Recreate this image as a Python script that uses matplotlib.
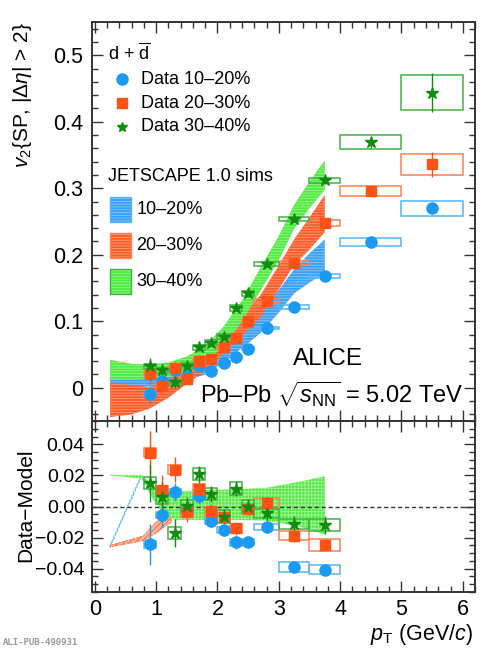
import matplotlib
matplotlib.use("Agg")
import matplotlib.pyplot as plt
from matplotlib.patches import Rectangle
from matplotlib.ticker import MultipleLocator

plt.rcParams['font.family'] = ['Liberation Sans', 'DejaVu Sans']
plt.rcParams['mathtext.fontset'] = 'custom'
plt.rcParams['mathtext.rm'] = 'Liberation Sans'
plt.rcParams['mathtext.it'] = 'Liberation Sans:italic'
plt.rcParams['mathtext.bf'] = 'Liberation Sans:bold'
plt.rcParams['hatch.linewidth'] = 0.6

# pT bins
pt = [0.9, 1.1, 1.3, 1.5, 1.7, 1.9, 2.1, 2.3, 2.5, 2.8, 3.25, 3.75, 4.5, 5.5]
pt_lo = [0.8, 1.0, 1.2, 1.4, 1.6, 1.8, 2.0, 2.2, 2.4, 2.6, 3.0, 3.5, 4.0, 5.0]
pt_hi = [1.0, 1.2, 1.4, 1.6, 1.8, 2.0, 2.2, 2.4, 2.6, 3.0, 3.5, 4.0, 5.0, 6.0]

# v2 data
v2_1020 = [-0.010, 0.010, 0.026, 0.017, 0.032, 0.025, 0.0375, 0.0465, 0.059, 0.090, 0.121, 0.168, 0.219, 0.270]
v2_2030 = [0.020, 0.002, 0.030, 0.0135, 0.040, 0.0435, 0.061, 0.075, 0.101, 0.130, 0.188, 0.248, 0.296, 0.336]
v2_3040 = [0.032, 0.026, 0.008, 0.033, 0.061, 0.068, 0.077, 0.120, 0.142, 0.186, 0.254, 0.312, 0.369, 0.444]

stat_1020 = [0.013, 0.008, 0.006, 0.005, 0.005, 0.004, 0.004, 0.004, 0.004, 0.003, 0.003, 0.003, 0.004, 0.006]
stat_2030 = [0.014, 0.010, 0.008, 0.006, 0.005, 0.005, 0.004, 0.004, 0.004, 0.004, 0.004, 0.004, 0.006, 0.019]
stat_3040 = [0.012, 0.010, 0.009, 0.006, 0.005, 0.005, 0.005, 0.005, 0.005, 0.005, 0.005, 0.006, 0.008, 0.029]

sys_1020 = [0.002, 0.002, 0.002, 0.002, 0.002, 0.002, 0.002, 0.002, 0.002, 0.002, 0.003, 0.003, 0.006, 0.011]
sys_2030 = [0.003, 0.003, 0.003, 0.003, 0.003, 0.003, 0.003, 0.003, 0.003, 0.003, 0.003, 0.004, 0.008, 0.016]
sys_3040 = [0.004, 0.004, 0.004, 0.004, 0.004, 0.004, 0.004, 0.004, 0.004, 0.003, 0.003, 0.004, 0.0105, 0.026]

# data - model (first 12 bins)
res_1020 = [-0.0244, -0.0054, 0.0093, -0.0030, 0.0069, -0.0091, -0.0151, -0.0231, -0.0227, -0.0130, -0.0389, -0.0406]
res_2030 = [0.0346, 0.0104, 0.0238, -0.0037, 0.0115, -0.0032, -0.0069, -0.0141, -0.0017, 0.0022, -0.0188, -0.0249]
res_3040 = [0.0151, 0.0058, -0.0169, 0.0004, 0.0210, 0.0080, -0.0065, 0.0115, 0.0000, -0.0043, -0.0112, -0.0119]

# JETSCAPE model bands
mod_pt = [0.25, 0.6, 0.9, 1.2, 1.5, 1.8, 2.1, 2.4, 2.7, 3.0, 3.25, 3.5, 3.75]
mod_1020 = [0.006, 0.008, 0.009, 0.013, 0.020, 0.030, 0.050, 0.074, 0.098, 0.130, 0.160, 0.180, 0.198]
mod_1020_err = [0.008, 0.007, 0.007, 0.008, 0.009, 0.010, 0.012, 0.014, 0.016, 0.017, 0.018, 0.022, 0.025]
mod_2030 = [-0.018, -0.018, -0.015, -0.002, 0.018, 0.038, 0.066, 0.094, 0.122, 0.166, 0.204, 0.232, 0.262]
mod_2030_err = [0.026, 0.022, 0.016, 0.013, 0.012, 0.013, 0.014, 0.016, 0.017, 0.018, 0.019, 0.024, 0.028]
mod_3040 = [0.027, 0.024, 0.024, 0.027, 0.035, 0.050, 0.078, 0.115, 0.163, 0.210, 0.257, 0.290, 0.320]
mod_3040_err = [0.015, 0.012, 0.011, 0.011, 0.012, 0.013, 0.014, 0.016, 0.017, 0.018, 0.018, 0.020, 0.022]

# model bands in the ratio panel
rb_1020_pt = [0.25, 0.76, 0.95, 1.2]
rb_1020_lo = [-0.026, 0.019, 0.005, -0.004]
rb_1020_hi = [-0.025, 0.0205, 0.012, 0.008]
rb_2030_pt = [0.25, 0.79, 1.0, 1.25]
rb_2030_lo = [-0.026, -0.022, -0.017, -0.010]
rb_2030_hi = [-0.025, -0.019, -0.010, -0.002]
rb_3040_pt = [0.25, 0.77, 0.85, 0.95, 1.1, 1.3, 1.7, 2.3, 2.8, 3.35, 3.75]
rb_3040_lo = [0.0200, 0.018, 0.013, 0.005, -0.004, -0.0086, -0.0086, -0.0086, -0.009, -0.013, -0.018]
rb_3040_hi = [0.0205, 0.020, 0.017, 0.013, 0.011, 0.0097, 0.0105, 0.011, 0.012, 0.016, 0.0195]

c_data = {'1020': '#1a9af2', '2030': '#ff5214', '3040': '#108c10'}
c_box = {'1020': '#55b4fa', '2030': '#ff8052', '3040': '#44b044'}
c_band = {'1020': '#3a9ff5', '2030': '#ff5c2a', '3040': '#52ea42'}
c_hatch = {'1020': '#8cc8fa', '2030': '#ff9c78', '3040': '#9af590'}
markers = {'1020': ('o', 8), '2030': ('s', 7.5), '3040': ('*', 9)}

fig = plt.figure(figsize=(5.02, 6.5), dpi=100)
ax = fig.add_axes([0.1827, 0.3523, 0.7636, 0.6138])
axr = fig.add_axes([0.1827, 0.0892, 0.7636, 0.2631])


def draw_band(a, x, lo, hi, key, z=1):
    a.fill_between(x, lo, hi, facecolor=c_band[key], edgecolor=c_hatch[key],
                   hatch='------', linewidth=0, zorder=z)


def draw_data(a, y, stat, sys, key, n):
    for i in range(n):
        a.add_patch(Rectangle((pt_lo[i], y[i] - sys[i]), pt_hi[i] - pt_lo[i], 2 * sys[i],
                              fill=False, edgecolor=c_box[key], linewidth=1.1, zorder=4))
    m, ms = markers[key]
    a.errorbar(pt[:n], y[:n], yerr=stat[:n], fmt=m, ms=ms, color=c_data[key],
               ecolor=c_data[key], elinewidth=1.0, capsize=0, zorder=5)


# top panel
for key, mc, me in [('1020', mod_1020, mod_1020_err), ('2030', mod_2030, mod_2030_err),
                    ('3040', mod_3040, mod_3040_err)]:
    draw_band(ax, mod_pt, [c - e for c, e in zip(mc, me)], [c + e for c, e in zip(mc, me)], key)

draw_data(ax, v2_1020, stat_1020, sys_1020, '1020', len(pt))
draw_data(ax, v2_2030, stat_2030, sys_2030, '2030', len(pt))
draw_data(ax, v2_3040, stat_3040, sys_3040, '3040', len(pt))

# bottom panel
axr.fill_between(rb_1020_pt, rb_1020_lo, rb_1020_hi, facecolor='none', edgecolor=c_box['1020'],
                 linewidth=0.6, linestyle='--', zorder=1)
axr.fill_between(rb_2030_pt, rb_2030_lo, rb_2030_hi, facecolor='#ffb89a', edgecolor=c_band['2030'],
                 hatch='//////', linewidth=0.5, linestyle='--', zorder=1)
axr.fill_between(rb_3040_pt, rb_3040_lo, rb_3040_hi, facecolor=c_band['3040'], edgecolor='#a8f59c',
                 hatch='+++++', linewidth=0, zorder=2)
axr.axhline(0, color='#333333', linestyle=(0, (3, 2)), linewidth=1.0, zorder=3)
n_res = len(res_1020)
draw_data(axr, res_1020, stat_1020, sys_1020, '1020', n_res)
draw_data(axr, res_2030, stat_2030, sys_2030, '2030', n_res)
draw_data(axr, res_3040, stat_3040, sys_3040, '3040', n_res)

# axes styling
for a in (ax, axr):
    a.set_xlim(-0.05, 6.2)
    a.xaxis.set_major_locator(MultipleLocator(1))
    a.xaxis.set_minor_locator(MultipleLocator(0.2))
    a.tick_params(which='both', direction='in', top=True, right=True, color='#333333')
    a.tick_params(which='major', length=8, width=1.0)
    a.tick_params(which='minor', length=4, width=1.0)
    for s in a.spines.values():
        s.set_linewidth(1.4)
        s.set_color('#333333')

ax.set_ylim(-0.05, 0.55)
ax.yaxis.set_major_locator(MultipleLocator(0.1))
ax.yaxis.set_minor_locator(MultipleLocator(0.02))
ax.set_yticks([0, 0.1, 0.2, 0.3, 0.4, 0.5])
ax.set_yticklabels(['0', '0.1', '0.2', '0.3', '0.4', '0.5'])
ax.tick_params(axis='y', labelsize=15.5, pad=6)
ax.tick_params(axis='x', labelbottom=False)

axr.set_ylim(-0.055, 0.055)
axr.yaxis.set_major_locator(MultipleLocator(0.02))
axr.yaxis.set_minor_locator(MultipleLocator(0.005))
axr.set_yticks([-0.04, -0.02, 0.0, 0.02, 0.04])
axr.set_yticklabels(['\u22120.04', '\u22120.02', '0.00', '0.02', '0.04'])
axr.tick_params(axis='y', labelsize=14, pad=5)
axr.tick_params(axis='x', labelsize=15.5, pad=5)

fig.text(0.045, 0.966, r'$v_2${SP, |$\Delta\eta$| > 2}', rotation=90, ha='center', va='top', fontsize=15)
fig.text(0.052, 1 - 505 / 650, 'Data\u2212Model', rotation=90, ha='center', va='center', fontsize=15)
fig.text(0.943, 1 - 640 / 650, r'$p_{\mathrm{T}}$ (GeV/$c$)', ha='right', va='baseline', fontsize=15.5)
fig.text(0.006, 1 - 645 / 650, 'ALI-PUB-490931', fontsize=6.5, color='#999999',
         family='DejaVu Sans Mono', weight='bold', va='baseline')

# legend (drawn by hand, ROOT style)
tr = ax.transAxes
ax.text(0.0425, 0.922, r'd + $\overline{\mathrm{d}}$', transform=tr, fontsize=13, va='center')
legend_ms = {'1020': 8, '2030': 7.5, '3040': 7.5}
for yy, key, lab in [(0.857, '1020', 'Data 10\u201320%'), (0.797, '2030', 'Data 20\u201330%'),
                     (0.737, '3040', 'Data 30\u201340%')]:
    m, ms = markers[key]
    ax.plot([0.079], [yy], m, ms=legend_ms[key], color=c_data[key], transform=tr, clip_on=False)
    ax.text(0.129, yy, lab, transform=tr, fontsize=13, va='center')
ax.text(0.0425, 0.614, 'JETSCAPE 1.0 sims', transform=tr, fontsize=13, va='center')
for y0, key, lab in [(0.499, '1020', '10\u201320%'), (0.409, '2030', '20\u201330%'),
                     (0.318, '3040', '30\u201340%')]:
    ax.add_patch(Rectangle((0.048, y0), 0.055, 0.062, transform=tr, facecolor=c_band[key],
                           edgecolor=c_hatch[key], hatch='------', linewidth=0))
    ax.add_patch(Rectangle((0.048, y0), 0.055, 0.062, transform=tr, fill=False,
                           edgecolor=c_box[key], linewidth=1.0))
    ax.text(0.116, y0 + 0.031, lab, transform=tr, fontsize=13, va='center')

ax.text(0.617, 0.140, 'ALICE', transform=tr, fontsize=17.5, ha='center', va='baseline')
ax.text(0.283, 0.045, 'Pb\u2013Pb $\\sqrt{s_{\\mathrm{NN}}}$ = 5.02 TeV', transform=tr,
        fontsize=17, va='baseline')

fig.savefig('out.png', dpi=100)
